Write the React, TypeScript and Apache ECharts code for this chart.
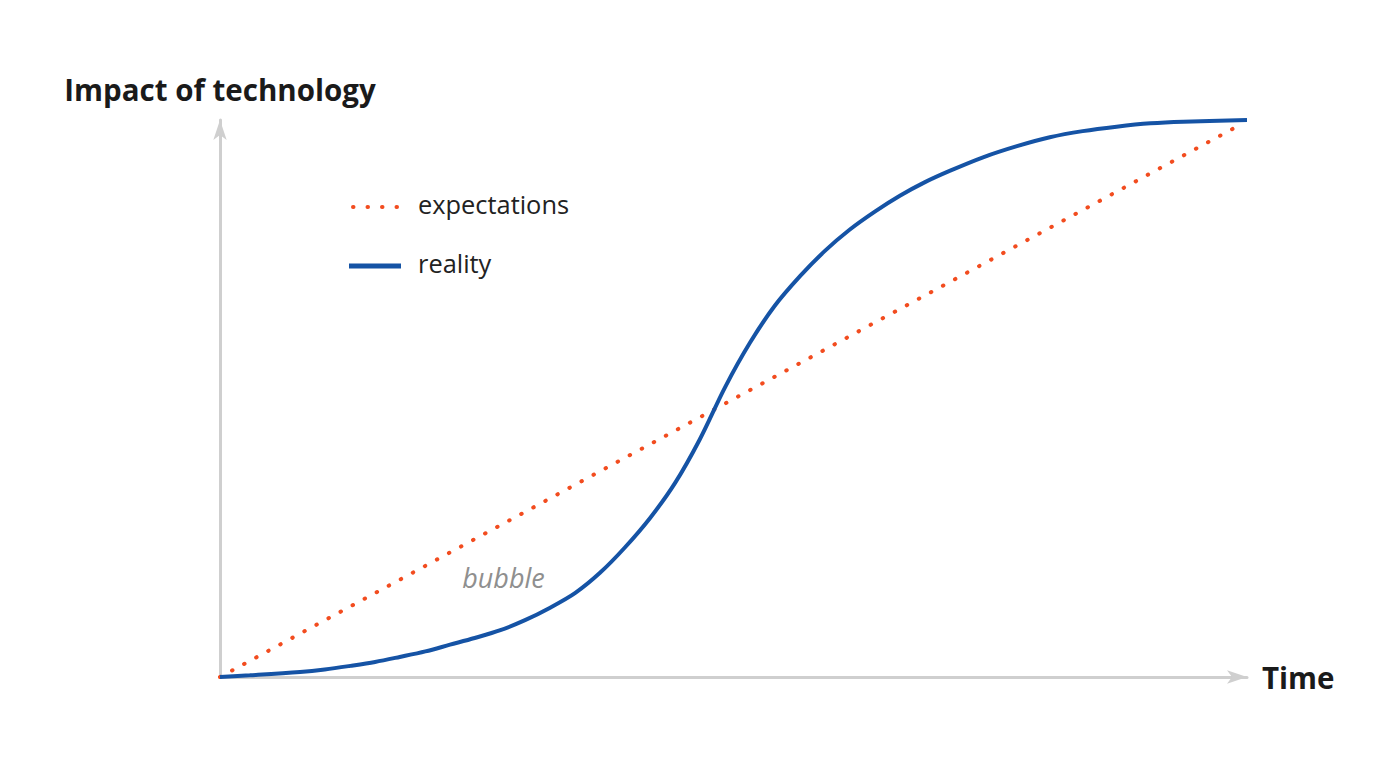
import { useEffect, useRef } from 'react';
import * as echarts from 'echarts';

// Reality (S-curve): [time, impact]
const REALITY: [number, number][] = [
  [0, 0], [2.9, 0.3], [7.8, 0.9], [10.2, 1.35], [12.7, 2.0], [15.1, 2.7],
  [17.5, 3.6], [20.0, 4.6], [22.4, 5.8], [24.8, 7.0], [27.3, 8.4],
  [29.7, 10.2], [32.1, 12.4], [34.6, 15.1], [37.0, 18.7], [39.4, 23.2],
  [41.9, 28.6], [44.3, 34.8], [46.7, 42.6], [49.2, 52.1], [51.6, 60.0],
  [54.0, 66.6], [56.5, 72.0], [58.9, 76.5], [61.3, 80.3], [63.8, 83.6],
  [66.2, 86.4], [68.6, 88.8], [71.1, 90.9], [74.3, 93.3], [77.6, 95.3],
  [80.8, 96.9], [84.0, 98.0], [87.3, 98.8], [90.6, 99.4], [93.8, 99.7],
  [100, 100],
];

// Expectations: straight line
const EXPECTATIONS: [number, number][] = [
  [0, 0],
  [99.6, 99.4],
];

const SERIES_NAMES = ['expectations', 'reality'];
const AXIS_NAMES = { x: 'Time', y: 'Impact of technology' };
const BUBBLE_LABEL = 'bubble';
const BUBBLE_AT: [number, number] = [27.6, 17.8];

const COLORS = {
  expectations: '#f24c1f',
  reality: '#1553a5',
  axis: '#cfcfcf',
  title: '#1a1a1a',
  text: '#222222',
  note: '#8f8f8f',
};

const FONT = '"Open Sans", Lato, sans-serif';

export default function App() {
  const ref = useRef<HTMLDivElement>(null);

  useEffect(() => {
    document.body.style.margin = '0';
    if (!ref.current) return;
    const chart = echarts.init(ref.current, null, { renderer: 'svg' });

    const axisCommon = {
      type: 'value' as const,
      min: 0,
      max: 100,
      axisLine: {
        show: true,
        symbol: ['none', 'arrow'],
        symbolSize: [10, 20],
        lineStyle: { color: COLORS.axis, width: 3 },
      },
      axisTick: { show: false },
      axisLabel: { show: false },
      splitLine: { show: false },
    };
    const nameStyle = { fontFamily: FONT, fontWeight: 'bold' as const, fontSize: 29.5, color: COLORS.title };

    chart.setOption({
      animation: false,
      textStyle: { fontFamily: FONT },
      grid: { left: 220, right: 153, top: 120, bottom: 87 },
      xAxis: {
        ...axisCommon,
        name: AXIS_NAMES.x,
        nameLocation: 'end',
        nameGap: 15,
        nameTextStyle: { ...nameStyle, padding: [0, 0, 4, 0] },
      },
      yAxis: {
        ...axisCommon,
        name: AXIS_NAMES.y,
        nameLocation: 'end',
        nameGap: 16,
        nameTextStyle: nameStyle,
      },
      graphic: [
        {
          type: 'line',
          shape: { x1: 353, y1: 207, x2: 400, y2: 207 },
          style: { stroke: COLORS.expectations, lineWidth: 4, lineCap: 'round', lineDash: [0.5, 14] },
        },
        {
          type: 'text',
          left: 418,
          top: 191,
          style: { text: SERIES_NAMES[0], fontFamily: FONT, fontSize: 25.4, fill: COLORS.text },
        },
        {
          type: 'line',
          shape: { x1: 349, y1: 266, x2: 401, y2: 266 },
          style: { stroke: COLORS.reality, lineWidth: 5 },
        },
        {
          type: 'text',
          left: 418,
          top: 250,
          style: { text: SERIES_NAMES[1], fontFamily: FONT, fontSize: 25.4, fill: COLORS.text },
        },
      ],
      series: [
        {
          name: SERIES_NAMES[0],
          type: 'line',
          data: EXPECTATIONS,
          symbol: 'none',
          lineStyle: { color: COLORS.expectations, width: 4, type: [0.5, 13.2], cap: 'round' },
          markPoint: {
            symbol: 'circle',
            symbolSize: 0,
            data: [{ coord: BUBBLE_AT }],
            label: {
              show: true,
              position: 'inside',
              formatter: BUBBLE_LABEL,
              fontFamily: FONT,
              fontStyle: 'italic',
              fontSize: 27,
              color: COLORS.note,
            },
          },
          z: 2,
        },
        {
          name: SERIES_NAMES[1],
          type: 'line',
          data: REALITY,
          symbol: 'none',
          smooth: 0.33,
          lineStyle: { color: COLORS.reality, width: 4 },
          z: 3,
        },
      ],
    });

    return () => chart.dispose();
  }, []);

  return <div ref={ref} style={{ width: 1400, height: 764 }} />;
}
